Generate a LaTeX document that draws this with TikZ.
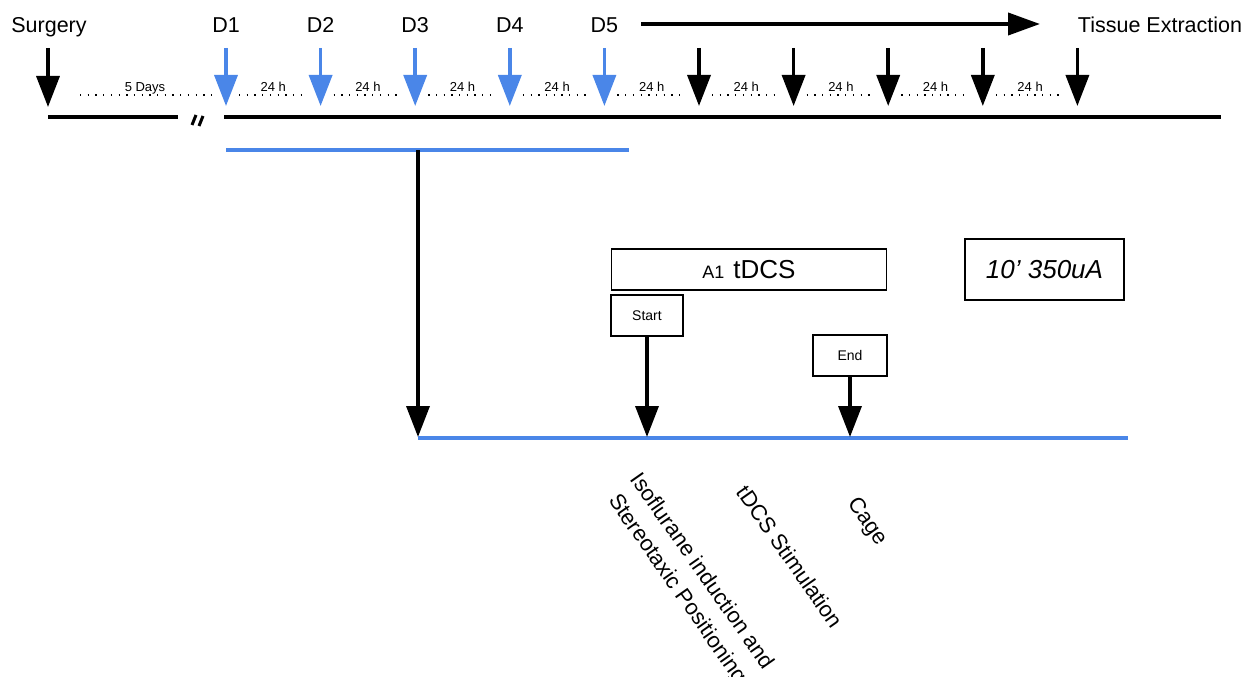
\documentclass[tikz,border=0pt]{standalone}
\usepackage{fontspec}
\setmainfont{Liberation Sans}
\usetikzlibrary{arrows.meta}
\definecolor{tlblue}{HTML}{4A86E8}
\tikzset{
  lbl/.style={font=\fontsize{21.5}{26}\selectfont, anchor=base, inner sep=0pt},
  smalllbl/.style={font=\fontsize{13}{15}\selectfont, anchor=base, inner sep=0pt},
  tickarrow/.style={line width=3.5pt, -{Triangle[width=23pt,length=31pt]}},
  blacktick/.style={tickarrow, draw=black, fill=black},
  bluetick/.style={tickarrow, draw=tlblue, fill=tlblue},
  dotline/.style={line width=1.3pt, dash pattern=on 1.3pt off 6.4pt},
  timeline/.style={line width=4.5pt},
  bluebar/.style={line width=4pt, draw=tlblue},
  boxnode/.style={draw, line width=1.2pt, inner sep=0pt, minimum height=41pt},
  rotlbl/.style={font=\fontsize{22}{30}\selectfont, rotate=-55, anchor=north, inner sep=0pt, align=center},
}
\begin{document}
\begin{tikzpicture}[x=1pt, y=-1pt]
\useasboundingbox (0,0) rectangle (1258,677);

% top labels
\node[lbl] (surg) at (49,33) {Surgery};
\node[lbl] (tissue) at (1160,33) {Tissue Extraction};

% surgery tick
\coordinate (stop) at (48,48);
\coordinate (sbot) at (48,107);
\draw[blacktick] (stop) -- (sbot);

% day ticks
\foreach \i in {0,...,9} {
  \pgfmathsetmacro\xx{226+94.6*\i}
  \coordinate (top\i) at (\xx,48);
  \coordinate (bot\i) at (\xx,106);
}
\foreach \i in {0,...,4} {
  \draw[bluetick] (top\i) -- (bot\i);
}
\foreach \i in {5,...,9} {
  \draw[blacktick] (top\i) -- (bot\i);
}
\foreach \i/\t in {0/D1,1/D2,2/D3,3/D4,4/D5} {
  \pgfmathsetmacro\xx{226+94.6*\i}
  \node[lbl] (d\i) at (\xx,33) {\t};
}

% dotted intervals
\coordinate (dA) at (80,95);
\coordinate (dB) at (212,95);
\draw[dotline] (dA) -- (dB);
\node[smalllbl] (five) at (145,92) {5 Days};
\foreach \i in {0,...,8} {
  \pgfmathsetmacro\xa{226+94.6*\i+13}
  \pgfmathsetmacro\xb{226+94.6*(\i+1)-13}
  \pgfmathsetmacro\xm{226+94.6*\i+47.3}
  \coordinate (ds\i) at (\xa,95);
  \coordinate (de\i) at (\xb,95);
  \draw[dotline] (ds\i) -- (de\i);
  \node[smalllbl] (h\i) at (\xm,92) {24 h};
}

% long top arrow
\coordinate (la) at (641,24);
\coordinate (lb) at (1040,24);
\draw[line width=4pt, -{Triangle[width=22pt,length=32pt]}] (la) -- (lb);

% main timeline
\coordinate (tl1) at (48,117);
\coordinate (tl2) at (178,117);
\coordinate (tl3) at (224,117);
\coordinate (tl4) at (1221,117);
\draw[timeline] (tl1) -- (tl2);
\draw[timeline] (tl3) -- (tl4);

% break marks
\coordinate (br1a) at (192,125);
\coordinate (br1b) at (196,115);
\coordinate (br2a) at (199,126);
\coordinate (br2b) at (203,116);
\draw[line width=3pt] (br1a) -- (br1b);
\draw[line width=3pt] (br2a) -- (br2b);

% blue stimulation period
\coordinate (bb1) at (226,150);
\coordinate (bb2) at (629,150);
\draw[bluebar] (bb1) -- (bb2);

% drop to expanded day
\coordinate (vtop) at (418,150);
\coordinate (vbot) at (418,437);
\draw[blacktick] (vtop) -- (vbot);

\coordinate (bl1) at (418,438);
\coordinate (bl2) at (1128,438);
\draw[bluebar] (bl1) -- (bl2);

% boxes
\node[boxnode, minimum width=275pt] (tdcs) at (749,269.5)
  {{\fontsize{18}{20}\selectfont A1}\hspace{9pt}{\fontsize{26}{30}\selectfont tDCS}};
\node[boxnode, minimum width=159pt, minimum height=61pt] (param) at (1044.5,269.5)
  {\fontsize{26}{30}\selectfont\itshape 10’ 350uA};
\node[boxnode, minimum width=72pt] (start) at (647,315.5)
  {\fontsize{14}{16}\selectfont Start};
\node[boxnode, minimum width=74pt] (end) at (850,355.5)
  {\fontsize{14}{16}\selectfont End};

\coordinate (sb) at (647,437);
\coordinate (eb) at (850,437);
\draw[blacktick] (start.south) -- (sb);
\draw[blacktick] (end.south) -- (eb);

% rotated labels
\node[rotlbl] (iso) at (710,566) {Isoflurane induction and\\Stereotaxic Positioning};
\node[rotlbl] (stim) at (797,552) {tDCS Stimulation};
\node[rotlbl] (cage) at (875,516) {Cage};
\end{tikzpicture}
\end{document}
